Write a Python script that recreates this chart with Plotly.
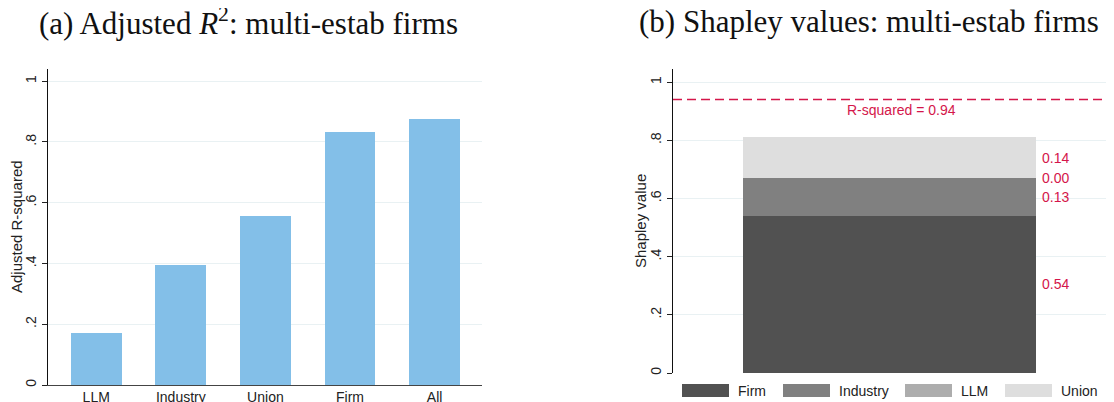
import plotly.graph_objects as go

# Panel (a) data
categories = ["LLM", "Industry", "Union", "Firm", "All"]
adj_r2 = [0.17, 0.395, 0.555, 0.832, 0.875]

# Panel (b) data
shap_names = ["Firm", "Industry", "LLM", "Union"]
shap_values = [0.54, 0.13, 0.00, 0.14]
shap_colors = ["#515151", "#808080", "#adadad", "#dedede"]
r_squared = 0.94

ytick_vals = [0, 0.2, 0.4, 0.6, 0.8, 1.0]
ytick_text = ["0", ".2", ".4", ".6", ".8", "1"]

# the page body has an 8px default margin: size the figure to fill the rest of the window
OFF = 8
W, H = 1114 - OFF, 402 - OFF
def px(x):
    return (x - OFF) / W
def py(y):
    return 1 - (y - OFF) / H

fig = go.Figure()

# Left bars
fig.add_trace(go.Bar(x=list(range(len(categories))), y=adj_r2, marker_color="#83bfe8",
                     marker_line_width=0, width=0.6, xaxis="x", yaxis="y", showlegend=False))

# Right stacked bar
for name, val, col in zip(shap_names, shap_values, shap_colors):
    fig.add_trace(go.Bar(x=[0], y=[val], name=name, marker_color=col, marker_line_width=0,
                         width=1.0, xaxis="x2", yaxis="y2", showlegend=False))

red = "#d4164a"
sans = "Liberation Sans, Arial"
# R-squared line
fig.add_trace(go.Scatter(x=[-0.74, 0.74], y=[r_squared, r_squared], mode="lines",
                         line=dict(color=red, width=1.5, dash="9px,5px"),
                         xaxis="x2", yaxis="y2", showlegend=False, hoverinfo="skip"))

annotations = []
# value labels
cum = 0
for i, val in enumerate(shap_values):
    mid = cum + val / 2
    cum += val
    annotations.append(dict(x=0.5, y=mid, xref="x2", yref="y2", text=f"{val:.2f}",
                            showarrow=False, xanchor="left", yanchor="middle", xshift=4,
                            yshift=10 if i == 0 else 0,
                            font=dict(family=sans, size=14, color=red)))
annotations.append(dict(x=0.04, y=r_squared, xref="x2", yref="y2", text=f"R-squared = {r_squared:.2f}",
                        showarrow=False, xanchor="center", yanchor="top", yshift=0,
                        font=dict(family=sans, size=14, color=red)))

# Titles
title_font = dict(family="Liberation Serif, DejaVu Serif, serif", size=31, color="#111")
annotations.append(dict(x=px(248), y=py(22), xref="paper", yref="paper",
                        text="(a) Adjusted <i>R</i><sup>2</sup>: multi-estab firms",
                        showarrow=False, xanchor="center", yanchor="middle", font=title_font))
annotations.append(dict(x=px(869), y=py(22), xref="paper", yref="paper",
                        text="(b) Shapley values: multi-estab firms",
                        showarrow=False, xanchor="center", yanchor="middle", font=title_font))

# Axis titles
annotations.append(dict(x=px(17), y=py(227), xref="paper", yref="paper", text="Adjusted R-squared",
                        textangle=-90, showarrow=False, xanchor="center", yanchor="middle",
                        font=dict(family=sans, size=15, color="#222")))
annotations.append(dict(x=px(640), y=py(221), xref="paper", yref="paper", text="Shapley value",
                        textangle=-90, showarrow=False, xanchor="center", yanchor="middle",
                        font=dict(family=sans, size=15, color="#222")))

# Manual legend
shapes = []
leg_x = [682, 783, 905, 1005]
for lx, name, col in zip(leg_x, shap_names, shap_colors):
    shapes.append(dict(type="rect", xref="paper", yref="paper",
                       x0=px(lx), x1=px(lx + 47), y0=py(397), y1=py(384),
                       fillcolor=col, line_width=0))
    annotations.append(dict(x=px(lx + 54), y=py(390.5), xref="paper", yref="paper", text=name,
                            showarrow=False, xanchor="left", yanchor="middle",
                            font=dict(family=sans, size=14, color="#222")))

axis_font = dict(family=sans, size=14, color="#222")
grid_col = "#e9f1f3"

fig.update_layout(
    width=W, height=H, margin=dict(l=0, r=0, t=0, b=0),
    paper_bgcolor="white", plot_bgcolor="white",
    barmode="stack", bargap=0,
    annotations=annotations, shapes=shapes,
    xaxis=dict(domain=[px(48), px(482)], range=[-0.57, 4.56], tickvals=list(range(len(categories))),
               ticktext=categories, showline=True, linecolor="#444", linewidth=1.2,
               ticks="", showgrid=False, zeroline=False, tickfont=axis_font, fixedrange=True,
               automargin=False, ticklabelstandoff=-1),
    yaxis=dict(domain=[py(385), py(69)], range=[0, 1.04], tickvals=ytick_vals, ticktext=ytick_text,
               tickangle=-90, ticks="outside", ticklen=5, tickcolor="#222", showline=True,
               linecolor="#111", linewidth=1.2, showgrid=True, gridcolor=grid_col, gridwidth=1,
               zeroline=False, tickfont=axis_font, automargin=False),
    xaxis2=dict(domain=[px(673), px(1106)], range=[-0.74, 0.74], showticklabels=False,
                showline=False, ticks="", showgrid=False, zeroline=False, automargin=False),
    yaxis2=dict(domain=[py(373), py(69)], range=[0, 1.045], tickvals=ytick_vals, ticktext=ytick_text,
                tickangle=-90, ticks="outside", ticklen=5, tickcolor="#222", showline=True,
                linecolor="#111", linewidth=1.2, showgrid=True, gridcolor=grid_col, gridwidth=1,
                zeroline=False, tickfont=axis_font, anchor="x2", automargin=False),
)

fig.write_html("out.html")
